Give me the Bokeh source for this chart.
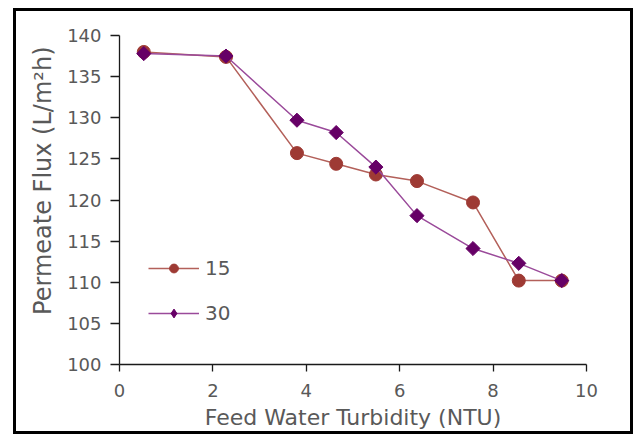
import math
from bokeh.plotting import figure
from bokeh.models import Legend, LegendItem, Title, Range1d, FixedTicker
from bokeh.embed import file_html
from bokeh.resources import INLINE

# ---- data ----
turbidity = [0.52, 2.28, 3.80, 4.64, 5.49, 6.37, 7.57, 8.55, 9.47]
flux_15 = [138.0, 137.4, 125.7, 124.4, 123.1, 122.3, 119.7, 110.2, 110.2]
flux_30 = [137.8, 137.5, 129.7, 128.2, 124.0, 118.1, 114.1, 112.3, 110.2]
series_names = ["15", "30"]
x_ticks = [0, 2, 4, 6, 8, 10]
y_ticks = [100, 105, 110, 115, 120, 125, 130, 135, 140]

FONT = "DejaVu Sans"
GRAY = "#595959"

p = figure(width=620, height=426, output_backend="svg", toolbar_location=None,
           x_range=Range1d(0, 10), y_range=Range1d(100, 140),
           min_border_left=103, min_border_right=50, min_border_top=24, min_border_bottom=73)
p.margin = (8, 0, 0, 13)
p.styles = {"border": "3px solid black"}
p.outline_line_color = None
p.grid.visible = False
p.background_fill_color = "white"
p.border_fill_color = "white"

for ax in (p.xaxis[0], p.yaxis[0]):
    ax.axis_line_color = "#1a1a1a"
    ax.axis_line_width = 1.3
    ax.major_tick_line_color = "#1a1a1a"
    ax.major_tick_line_width = 1.3
    ax.minor_tick_line_color = None
    ax.major_tick_in = 0
    ax.major_label_text_font = FONT
    ax.major_label_text_font_size = "18px"
    ax.major_label_text_color = GRAY
    ax.axis_label_text_font = FONT
    ax.axis_label_text_font_size = "22px"
    ax.axis_label_text_font_style = "normal"
    ax.axis_label_text_color = GRAY

p.xaxis.ticker = FixedTicker(ticks=x_ticks)
p.yaxis.ticker = FixedTicker(ticks=y_ticks)
p.xaxis.major_tick_out = 7
p.yaxis.major_tick_out = 9
p.xaxis.major_label_standoff = 12
p.yaxis.major_label_standoff = 9
p.xaxis.axis_label = "Feed Water Turbidity (NTU)"
p.xaxis.axis_label_standoff = 5

C15, C15L = "#9e3a34", "#b3605a"
C30, C30L = "#660066", "#9a4a9a"

r1l = p.line(turbidity, flux_15, line_color=C15L, line_width=1.5)
r1s = p.scatter(turbidity, flux_15, marker="circle", size=13, fill_color=C15, line_color=C15)
r2l = p.line(turbidity, flux_30, line_color=C30L, line_width=1.5)
# diamond glyph used for the legend (legend glyphs ignore marker angle); hidden under the markers
r2k = p.scatter(turbidity, flux_30, marker="diamond", size=10, fill_color=C30, line_color=C30)
r2s = p.scatter(turbidity, flux_30, marker="square", angle=math.pi / 4, size=10,
                fill_color=C30, line_color=C30)

legend = Legend(items=[LegendItem(label=series_names[0], renderers=[r1l, r1s]),
                       LegendItem(label=series_names[1], renderers=[r2l, r2k])],
                location=(29, 39), glyph_width=51, glyph_height=22, label_height=20,
                spacing=21, padding=0, margin=0, label_standoff=6,
                label_text_font=FONT, label_text_font_size="20px", label_text_color=GRAY,
                background_fill_alpha=0, border_line_color=None)
p.add_layout(legend)

ytitle = Title(text="Permeate Flux (L/m²h)", align="right", offset=11, standoff=16,
               text_font=FONT, text_font_size="24px", text_font_style="normal",
               text_color=GRAY)
p.add_layout(ytitle, "left")

open("out.html", "w").write(file_html(p, INLINE))
